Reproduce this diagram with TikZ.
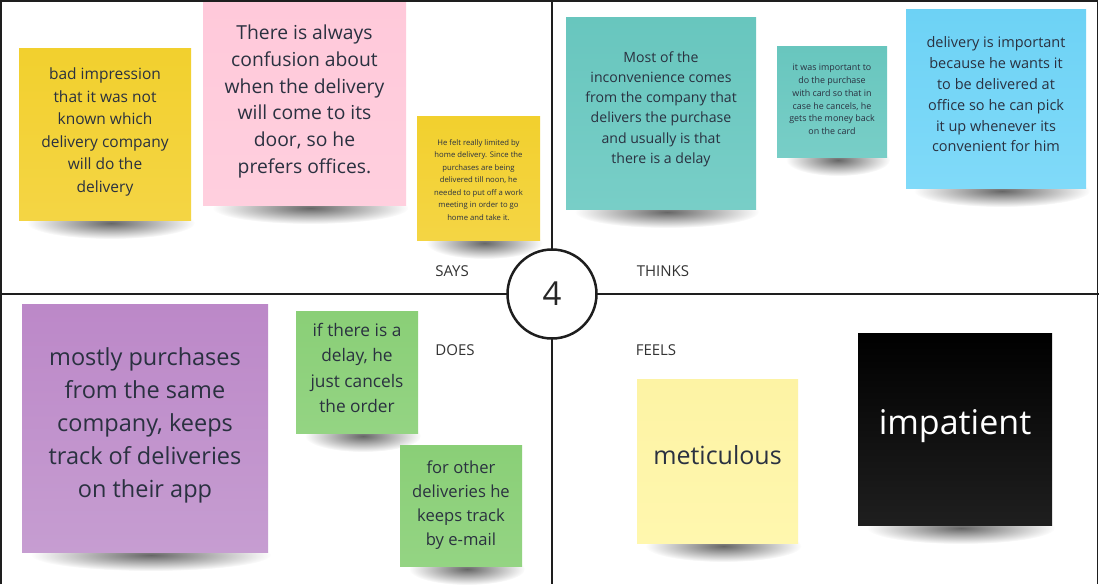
\documentclass[tikz,border=0pt]{standalone}
\usepackage{fontspec}
\setmainfont{Open Sans}
\usetikzlibrary{fadings}
\definecolor{txt}{HTML}{2A3140}
\definecolor{frame}{HTML}{1E1E1E}
\definecolor{ylw}{HTML}{F2D02E}
\definecolor{ylwb}{HTML}{F4D544}
\definecolor{pnk}{HTML}{FFC9DA}
\definecolor{pnkb}{HTML}{FFCFDE}
\definecolor{tea}{HTML}{68C6BE}
\definecolor{teab}{HTML}{78CEC7}
\definecolor{blu}{HTML}{6DD2F5}
\definecolor{blub}{HTML}{80DAF9}
\definecolor{pur}{HTML}{BC88C8}
\definecolor{purb}{HTML}{C69DD1}
\definecolor{grn}{HTML}{8ACF77}
\definecolor{grnb}{HTML}{94D483}
\definecolor{lyl}{HTML}{FDF3A4}
\definecolor{lylb}{HTML}{FFF7AE}
\tikzfading[name=shfade, inner color=transparent!40, outer color=transparent!100]
\tikzset{
  note/.style={inner sep=0pt, align=center, text=txt},
  lbl/.style={text=black!80, font=\fontsize{15}{18}\selectfont, inner sep=0pt},
  frameline/.style={draw=frame, line width=1.5pt},
  shadowfill/.style={fill=black, path fading=shfade},
}
\newcommand{\fs}[2]{\fontsize{#1}{#2}\selectfont}
\newcommand{\noteshadow}[2]{\fill[shadowfill] ([xshift=6pt,yshift=-3pt]#1.south) ellipse ({#2} and 16pt);}
\begin{document}
\begin{tikzpicture}[x=1pt,y=-1pt]
\useasboundingbox (0,0) rectangle (1099,584);
\fill[white] (0,0) rectangle (1099,584);
% frame
\coordinate (tl) at (1,1);
\coordinate (tr) at (1097.5,1);
\coordinate (bl) at (1,584);
\coordinate (br) at (1097.5,584);
\coordinate (vt) at (552,1);
\coordinate (vb) at (552,584);
\coordinate (hl) at (0,294);
\coordinate (hr) at (1099,294);
\draw[frameline] (bl) -- (tl) -- (tr) -- (br);
\draw[frameline] (vt) -- (vb);
\draw[frameline] (hl) -- (hr);

% shadow anchors (bottom centre of each note)
\coordinate (s1) at (105,220);
\coordinate (s2) at (304.5,205);
\coordinate (s3) at (478.5,240);
\coordinate (s4) at (661,209);
\coordinate (s5) at (832,157);
\coordinate (s6) at (996,188);
\coordinate (s7) at (145,552);
\coordinate (s8) at (357,433);
\coordinate (s9) at (461,566);
\coordinate (s10) at (717.5,543);
\coordinate (s11) at (955,525);
\noteshadow{s1}{84pt}
\noteshadow{s2}{98pt}
\noteshadow{s3}{58pt}
\noteshadow{s4}{92pt}
\noteshadow{s5}{52pt}
\noteshadow{s6}{88pt}
\noteshadow{s7}{120pt}
\noteshadow{s8}{58pt}
\noteshadow{s9}{58pt}
\noteshadow{s10}{78pt}
\noteshadow{s11}{94pt}

\node[note, top color=ylw, bottom color=ylwb, minimum width=172pt, minimum height=172pt] (n1) at (105,134) {};
\node[note, font=\fs{15.5}{22.6}] at ([yshift=2pt]n1.center) {bad impression\\that it was not\\known which\\delivery company\\will do the\\delivery};

\node[note, top color=pnk, bottom color=pnkb, minimum width=203pt, minimum height=203pt] (n2) at (304.5,103.5) {};
\node[note, font=\fs{19.3}{26.7}] at ([yshift=2pt]n2.center) {There is always\\confusion about\\when the delivery\\will come to its\\door, so he\\prefers offices.};

\node[note, top color=ylw, bottom color=ylwb, minimum width=123pt, minimum height=124pt] (n3) at (478.5,178) {};
\node[note, font=\fs{7.7}{12.5}] at ([yshift=-2pt]n3.center) {He felt really limited by\\home delivery. Since the\\purchases are being\\delivered till noon, he\\needed to put off a work\\meeting in order to go\\home and take it.};

\node[note, top color=tea, bottom color=teab, minimum width=190pt, minimum height=192pt] (n4) at (661,113) {};
\node[note, font=\fs{14.1}{20.2}] at ([yshift=4pt]n4.center) {Most of the\\inconvenience comes\\from the company that\\delivers the purchase\\and usually is that\\there is a delay};

\node[note, top color=tea, bottom color=teab, minimum width=110pt, minimum height=111pt] (n5) at (832,101.5) {};
\node[note, font=\fs{8.9}{12.8}] at ([yshift=2pt]n5.center) {it was important to\\do the purchase\\with card so that in\\case he cancels, he\\gets the money back\\on the card};

\node[note, top color=blu, bottom color=blub, minimum width=180pt, minimum height=179pt] (n6) at (996,98.5) {};
\node[note, font=\fs{14.5}{20.8}] at ([yshift=4pt]n6.center) {delivery is important\\because he wants it\\to be delivered at\\office so he can pick\\it up whenever its\\convenient for him};

\node[note, top color=pur, bottom color=purb, minimum width=246pt, minimum height=248pt] (n7) at (145,428) {};
\node[note, font=\fs{23.5}{33}] at ([yshift=3pt]n7.center) {mostly purchases\\from the same\\company, keeps\\track of deliveries\\on their app};

\node[note, top color=grn, bottom color=grnb, minimum width=122pt, minimum height=122pt] (n8) at (357,372) {};
\node[note, font=\fs{17.3}{25.3}] at ([yshift=4pt]n8.center) {if there is a\\delay, he\\just cancels\\the order};

\node[note, top color=grn, bottom color=grnb, minimum width=122pt, minimum height=121pt] (n9) at (461,505.5) {};
\node[note, font=\fs{16.6}{24}] at (n9.center) {for other\\deliveries he\\keeps track\\by e-mail};

\node[note, top color=lyl, bottom color=lylb, minimum width=161pt, minimum height=164pt] (n10) at (717.5,461) {};
\node[note, font=\fs{25}{30}] at ([yshift=6pt]n10.center) {meticulous};

\node[note, top color=black, bottom color=black!88, minimum width=194pt, minimum height=192pt] (n11) at (955,429) {};
\node[note, text=white, font=\fs{34}{40}] at ([yshift=3pt]n11.center) {impatient};

% quadrant labels
\node[lbl] (says) at (452,271) {SAYS};
\node[lbl] (thinks) at (663,271) {THINKS};
\node[lbl] (does) at (455,350) {DOES};
\node[lbl] (feels) at (656,350) {FEELS};

% centre circle
\node[circle, draw=frame, line width=2.5pt, fill=white, minimum size=89pt, inner sep=0pt, text=black!85, font=\fs{33}{36}] (c) at (552,294) {4};
\end{tikzpicture}
\end{document}
